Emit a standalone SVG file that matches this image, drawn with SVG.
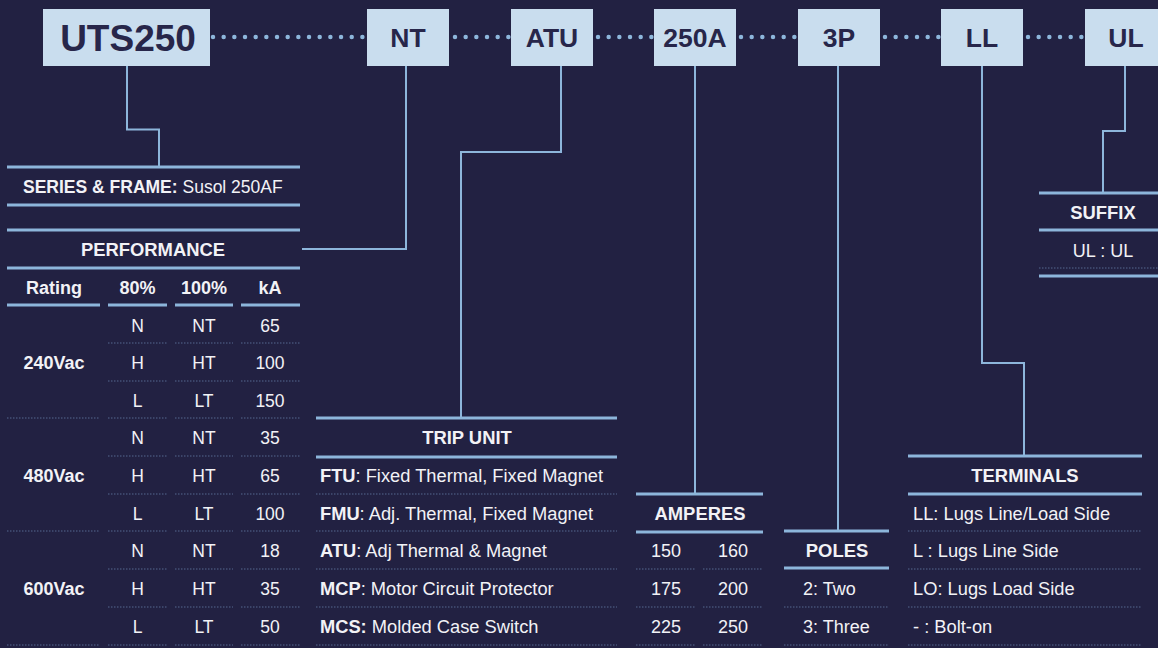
<svg xmlns="http://www.w3.org/2000/svg" width="1158" height="648" viewBox="0 0 1158 648">
<defs>
<style>
.bg{fill:#222142}
.box{fill:#c9ddee}
.bt{font-family:"Liberation Sans",Arial,sans-serif;font-weight:bold;fill:#27264a;text-anchor:middle}
.t{font-family:"Liberation Sans",Arial,sans-serif;font-size:17.5px;fill:#f2f2f6}
.t2{font-size:18.3px}
.t3{font-size:18px}
.b{font-weight:bold}
.h{font-family:"Liberation Sans",Arial,sans-serif;font-size:18.4px;font-weight:bold;fill:#f2f2f6;text-anchor:middle}
.c{text-anchor:middle}
.thick{stroke:#8db6db;stroke-width:3;fill:none}
.conn{stroke:#8db6db;stroke-width:2;fill:none}
.dots{stroke:#8db6db;stroke-width:4.5;stroke-linecap:round;stroke-dasharray:0 10.67;fill:none}
.dv{stroke:#55698f;stroke-width:1;stroke-dasharray:1.5 1.5;fill:none}
</style>
</defs>
<rect class="bg" x="0" y="0" width="1158" height="648"/>

<g id="connectors">
<line class="dots" x1="213" y1="37" x2="365" y2="37"/>
<line class="dots" x1="455" y1="37" x2="509" y2="37"/>
<line class="dots" x1="598" y1="37" x2="652" y2="37"/>
<line class="dots" x1="741" y1="37" x2="796" y2="37"/>
<line class="dots" x1="885" y1="37" x2="939" y2="37"/>
<line class="dots" x1="1028" y1="37" x2="1083" y2="37"/>
<polyline class="conn" points="127,66 127,129.5 159,129.5 159,167"/>
<polyline class="conn" points="406,66 406,249 302,249"/>
<polyline class="conn" points="561,66 561,152 461,152 461,418"/>
<polyline class="conn" points="695,66 695,494"/>
<polyline class="conn" points="838,66 838,531"/>
<polyline class="conn" points="982,66 982,363 1024,363 1024,456"/>
<polyline class="conn" points="1125,66 1125,131 1103,131 1103,193"/>
</g>

<g id="node-uts250"><rect class="box" x="43" y="9" width="167" height="57"/><text class="bt" x="128" y="51" font-size="37">UTS250</text></g>
<g id="node-nt"><rect class="box" x="367" y="9" width="82" height="57"/><text class="bt" x="408" y="47" font-size="26.5">NT</text></g>
<g id="node-atu"><rect class="box" x="511" y="9" width="82" height="57"/><text class="bt" x="552" y="47" font-size="26.5">ATU</text></g>
<g id="node-250a"><rect class="box" x="654" y="9" width="82" height="57"/><text class="bt" x="695" y="47" font-size="26.5">250A</text></g>
<g id="node-3p"><rect class="box" x="798" y="9" width="82" height="57"/><text class="bt" x="839" y="47" font-size="26.5">3P</text></g>
<g id="node-ll"><rect class="box" x="941" y="9" width="82" height="57"/><text class="bt" x="982" y="47" font-size="26.5">LL</text></g>
<g id="node-ul"><rect class="box" x="1085" y="9" width="82" height="57"/><text class="bt" x="1126" y="47" font-size="26.5">UL</text></g>

<g id="series-frame">
<line class="thick" x1="7" y1="167" x2="300" y2="167"/>
<line class="thick" x1="7" y1="205" x2="300" y2="205"/>
<text class="t" x="23" y="193"><tspan class="b">SERIES &amp; FRAME:</tspan> Susol 250AF</text>
</g>

<g id="performance">
<line class="thick" x1="7" y1="230" x2="300" y2="230"/>
<line class="thick" x1="7" y1="268" x2="300" y2="268"/>
<text class="h" x="153" y="256">PERFORMANCE</text>
<line class="thick" x1="7" y1="305" x2="100" y2="305"/>
<line class="thick" x1="108" y1="305" x2="167" y2="305"/>
<line class="thick" x1="175" y1="305" x2="233" y2="305"/>
<line class="thick" x1="241" y1="305" x2="300" y2="305"/>
<g class="t t3 c b">
<text x="54" y="294">Rating</text><text x="137.5" y="294">80%</text><text x="204" y="294">100%</text><text x="270" y="294">kA</text>
<text x="54" y="369">240Vac</text><text x="54" y="482">480Vac</text><text x="54" y="595">600Vac</text>
</g>
<g class="dv">
<path d="M7 418H100M7 531H100M7 645H100"/>
<path d="M108 343H167M108 381H167M108 418H167M108 456H167M108 494H167M108 531H167M108 569H167M108 607H167M108 645H167"/>
<path d="M175 343H233M175 381H233M175 418H233M175 456H233M175 494H233M175 531H233M175 569H233M175 607H233M175 645H233"/>
<path d="M241 343H300M241 381H300M241 418H300M241 456H300M241 494H300M241 531H300M241 569H300M241 607H300M241 645H300"/>
</g>
<g class="t c">
<text x="137.5" y="332">N</text><text x="204" y="332">NT</text><text x="270" y="332">65</text>
<text x="137.5" y="369">H</text><text x="204" y="369">HT</text><text x="270" y="369">100</text>
<text x="137.5" y="407">L</text><text x="204" y="407">LT</text><text x="270" y="407">150</text>
<text x="137.5" y="444">N</text><text x="204" y="444">NT</text><text x="270" y="444">35</text>
<text x="137.5" y="482">H</text><text x="204" y="482">HT</text><text x="270" y="482">65</text>
<text x="137.5" y="520">L</text><text x="204" y="520">LT</text><text x="270" y="520">100</text>
<text x="137.5" y="557">N</text><text x="204" y="557">NT</text><text x="270" y="557">18</text>
<text x="137.5" y="595">H</text><text x="204" y="595">HT</text><text x="270" y="595">35</text>
<text x="137.5" y="633">L</text><text x="204" y="633">LT</text><text x="270" y="633">50</text>
</g>
</g>

<g id="trip-unit">
<line class="thick" x1="316" y1="418" x2="617" y2="418"/>
<line class="thick" x1="316" y1="457" x2="617" y2="457"/>
<text class="h" x="467" y="444">TRIP UNIT</text>
<path class="dv" d="M316 494H617M316 531H617M316 569H617M316 607H617M316 645H617"/>
<text class="t t2" x="320" y="482"><tspan class="b">FTU</tspan>: Fixed Thermal, Fixed Magnet</text>
<text class="t t2" x="320" y="520"><tspan class="b">FMU</tspan>: Adj. Thermal, Fixed Magnet</text>
<text class="t t2" x="320" y="557"><tspan class="b">ATU</tspan>: Adj Thermal &amp; Magnet</text>
<text class="t t2" x="320" y="595"><tspan class="b">MCP</tspan>: Motor Circuit Protector</text>
<text class="t t2" x="320" y="633"><tspan class="b">MCS:</tspan> Molded Case Switch</text>
</g>

<g id="amperes">
<line class="thick" x1="636" y1="494" x2="763" y2="494"/>
<line class="thick" x1="636" y1="532" x2="763" y2="532"/>
<text class="h" x="700" y="520">AMPERES</text>
<path class="dv" d="M636 569H696M636 607H696M636 645H696M703 569H763M703 607H763M703 645H763"/>
<g class="t t3 c">
<text x="666" y="557">150</text><text x="733" y="557">160</text>
<text x="666" y="595">175</text><text x="733" y="595">200</text>
<text x="666" y="633">225</text><text x="733" y="633">250</text>
</g>
</g>

<g id="poles">
<line class="thick" x1="784" y1="531" x2="889" y2="531"/>
<line class="thick" x1="784" y1="568" x2="889" y2="568"/>
<text class="h" x="837" y="557">POLES</text>
<path class="dv" d="M784 607H889M784 645H889"/>
<text class="t t3" x="803" y="595">2: Two</text>
<text class="t t3" x="803" y="633">3: Three</text>
</g>

<g id="terminals">
<line class="thick" x1="908" y1="456" x2="1142" y2="456"/>
<line class="thick" x1="908" y1="494" x2="1142" y2="494"/>
<text class="h" x="1025" y="482">TERMINALS</text>
<path class="dv" d="M908 531H1142M908 569H1142M908 607H1142M908 645H1142"/>
<text class="t t2" x="913" y="520">LL: Lugs Line/Load Side</text>
<text class="t t2" x="913" y="557">L : Lugs Line Side</text>
<text class="t t2" x="913" y="595">LO: Lugs Load Side</text>
<text class="t t2" x="913" y="633">- : Bolt-on</text>
</g>

<g id="suffix">
<line class="thick" x1="1039" y1="193" x2="1160" y2="193"/>
<line class="thick" x1="1039" y1="230" x2="1160" y2="230"/>
<text class="h" x="1103" y="219">SUFFIX</text>
<text class="t t3 c" x="1103" y="257">UL : UL</text>
<path class="dv" d="M1039 268H1160"/>
<line class="thick" x1="1039" y1="276" x2="1160" y2="276"/>
</g>
</svg>
